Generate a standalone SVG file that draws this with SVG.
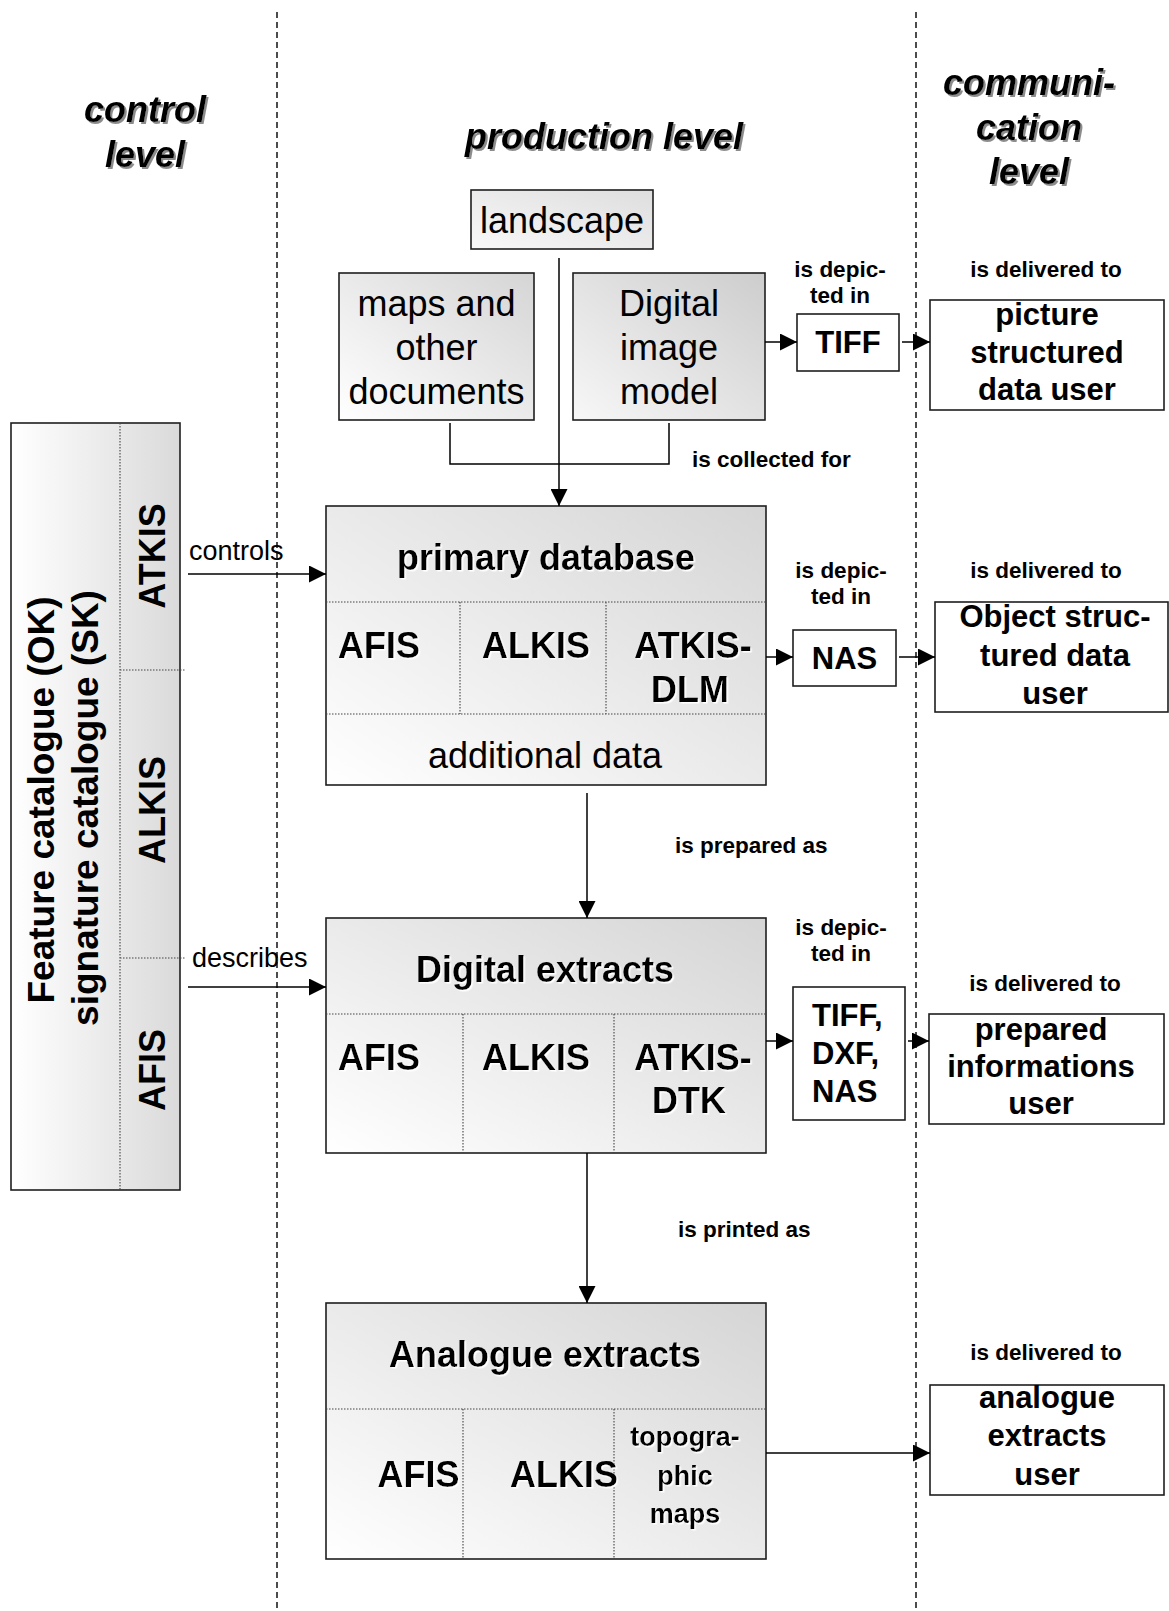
<svg xmlns="http://www.w3.org/2000/svg" width="1169" height="1611" viewBox="0 0 1169 1611">
<defs>
<linearGradient id="gbox" x1="0" y1="1" x2="1" y2="0">
<stop offset="0" stop-color="#ffffff"/>
<stop offset="1" stop-color="#d5d5d5"/>
</linearGradient>
<linearGradient id="gdark" x1="0" y1="1" x2="1" y2="0">
<stop offset="0" stop-color="#f7f7f7"/>
<stop offset="1" stop-color="#cdcdcd"/>
</linearGradient>
<linearGradient id="glight" x1="0" y1="1" x2="1" y2="0">
<stop offset="0" stop-color="#f8f8f8"/>
<stop offset="1" stop-color="#dedede"/>
</linearGradient>
<linearGradient id="gside" x1="0" y1="0" x2="1" y2="0">
<stop offset="0" stop-color="#ffffff"/>
<stop offset="1" stop-color="#dadada"/>
</linearGradient>
<filter id="tshadow" x="-10%" y="-20%" width="130%" height="160%">
<feDropShadow dx="2" dy="2" stdDeviation="0.6" flood-color="#8c8c8c"/>
</filter>
<filter id="wshadow" x="-10%" y="-20%" width="130%" height="160%">
<feDropShadow dx="1.5" dy="1.5" stdDeviation="0.3" flood-color="#ffffff"/>
</filter>
<marker id="arr" markerUnits="userSpaceOnUse" markerWidth="17" markerHeight="17" refX="17" refY="8.5" orient="auto">
<path d="M0,0 L17,8.5 L0,17 z" fill="#000"/>
</marker>
</defs>
<style>
text{font-family:"Liberation Sans",Arial,sans-serif;fill:#000}
.title{font-size:36px;font-weight:bold;font-style:italic;text-anchor:middle}
.reg36{font-size:36px;text-anchor:middle}
.b36{font-size:36px;font-weight:bold}
.b31{font-size:31px;font-weight:bold;text-anchor:middle}
.b27{font-size:27px;font-weight:bold;text-anchor:middle}
.lab{font-size:22.5px;font-weight:bold}
.labm{font-size:22.5px;font-weight:bold;text-anchor:middle}
.small{font-size:27px}
.box{stroke:#1e1e1e;stroke-width:1.6}
.wbox{fill:#fff;stroke:#1e1e1e;stroke-width:1.6}
.dot{stroke:#444;stroke-width:1.1;stroke-dasharray:1.5,1.5;fill:none}
.dash{stroke:#000;stroke-width:1.4;stroke-dasharray:6,4;fill:none}
.con{stroke:#000;stroke-width:1.5;fill:none}
.mid{text-anchor:middle}
</style>
<rect width="1169" height="1611" fill="#fff"/>

<g id="lanes">
<line class="dash" x1="277" y1="12" x2="277" y2="1611"/>
<line class="dash" x1="916" y1="12" x2="916" y2="1611"/>
</g>

<g id="titles" filter="url(#tshadow)">
<text class="title" x="145" y="122">control</text>
<text class="title" x="145" y="167">level</text>
<text class="title" x="604" y="149">production level</text>
<text class="title" x="1029" y="95">communi-</text>
<text class="title" x="1029" y="140">cation</text>
<text class="title" x="1029" y="184">level</text>
</g>

<g id="catalogue">
<rect class="box" x="11" y="423" width="169" height="767" fill="url(#gside)"/>
<path class="dot" d="M120,423 V1190 M120,670 H186 M120,958 H186"/>
<text class="b36" font-size="37" text-anchor="middle" transform="translate(54,800) rotate(-90)" style="font-size:37px">Feature catalogue (OK)</text>
<text class="b36" text-anchor="middle" transform="translate(98,808) rotate(-90)" style="font-size:37px">signature catalogue (SK)</text>
<text class="b36" text-anchor="middle" transform="translate(165,556) rotate(-90)">ATKIS</text>
<text class="b36" text-anchor="middle" transform="translate(165,810) rotate(-90)">ALKIS</text>
<text class="b36" text-anchor="middle" transform="translate(165,1070) rotate(-90)">AFIS</text>
</g>

<g id="landscape">
<rect class="box" x="471" y="190" width="182" height="59" fill="url(#glight)"/>
<text class="reg36" x="562" y="233">landscape</text>
</g>

<g id="maps">
<rect class="box" x="339" y="273" width="195" height="147" fill="url(#gbox)"/>
<text class="reg36" x="436.5" y="316">maps and</text>
<text class="reg36" x="436.5" y="360">other</text>
<text class="reg36" x="436.5" y="404">documents</text>
</g>

<g id="image-model">
<rect class="box" x="573" y="273" width="192" height="147" fill="url(#gdark)"/>
<text class="reg36" x="669" y="316">Digital</text>
<text class="reg36" x="669" y="360">image</text>
<text class="reg36" x="669" y="404">model</text>
</g>

<g id="tiff">
<rect class="wbox" x="797" y="314" width="102" height="57"/>
<text class="b31" x="848" y="353">TIFF</text>
</g>

<g id="picture-user">
<rect class="wbox" x="930" y="300" width="234" height="110"/>
<text class="b31" x="1047" y="325">picture</text>
<text class="b31" x="1047" y="363">structured</text>
<text class="b31" x="1047" y="400">data user</text>
</g>

<g id="primary-database">
<rect class="box" x="326" y="506" width="440" height="279" fill="url(#gbox)"/>
<path class="dot" d="M326,602 H766 M326,714 H766 M460,602 V714 M606,602 V714"/>
<g filter="url(#wshadow)">
<text class="b36" x="546" y="570" text-anchor="middle">primary database</text>
<text class="b36" x="338" y="658">AFIS</text>
<text class="b36" x="536" y="658" text-anchor="middle">ALKIS</text>
<text class="b36" x="693" y="658" text-anchor="middle">ATKIS-</text>
<text class="b36" x="690" y="702" text-anchor="middle">DLM</text>
</g>
<text class="reg36" x="545" y="768">additional data</text>
</g>

<g id="nas">
<rect class="wbox" x="793" y="630" width="103" height="56"/>
<text class="b31" x="844.5" y="669">NAS</text>
</g>

<g id="object-user">
<rect class="wbox" x="935" y="602" width="233" height="110"/>
<text class="b31" x="1055" y="627">Object struc-</text>
<text class="b31" x="1055" y="666">tured data</text>
<text class="b31" x="1055" y="704">user</text>
</g>

<g id="digital-extracts">
<rect class="box" x="326" y="918" width="440" height="235" fill="url(#gbox)"/>
<path class="dot" d="M326,1014 H766 M463,1014 V1153 M614,1014 V1153"/>
<g filter="url(#wshadow)">
<text class="b36" x="545" y="982" text-anchor="middle">Digital extracts</text>
<text class="b36" x="338" y="1070">AFIS</text>
<text class="b36" x="536" y="1070" text-anchor="middle">ALKIS</text>
<text class="b36" x="693" y="1070" text-anchor="middle">ATKIS-</text>
<text class="b36" x="689" y="1113" text-anchor="middle">DTK</text>
</g>
</g>

<g id="tiff-dxf-nas">
<rect class="wbox" x="793" y="987" width="112" height="133"/>
<text class="b31" x="812" y="1026" text-anchor="start" style="text-anchor:start">TIFF,</text>
<text class="b31" x="812" y="1064" style="text-anchor:start">DXF,</text>
<text class="b31" x="812" y="1102" style="text-anchor:start">NAS</text>
</g>

<g id="prepared-user">
<rect class="wbox" x="929" y="1014" width="235" height="110"/>
<text class="b31" x="1041" y="1040">prepared</text>
<text class="b31" x="1041" y="1077">informations</text>
<text class="b31" x="1041" y="1114">user</text>
</g>

<g id="analogue-extracts">
<rect class="box" x="326" y="1303" width="440" height="256" fill="url(#gbox)"/>
<path class="dot" d="M326,1409 H766 M463,1409 V1559 M614,1409 V1559"/>
<g filter="url(#wshadow)">
<text class="b36" x="545" y="1367" text-anchor="middle">Analogue extracts</text>
<text class="b36" x="418.5" y="1487" text-anchor="middle">AFIS</text>
<text class="b36" x="564" y="1487" text-anchor="middle">ALKIS</text>
<text class="b27" x="685" y="1446">topogra-</text>
<text class="b27" x="685" y="1485">phic</text>
<text class="b27" x="685" y="1523">maps</text>
</g>
</g>

<g id="analogue-user">
<rect class="wbox" x="930" y="1385" width="234" height="110"/>
<text class="b31" x="1047" y="1408">analogue</text>
<text class="b31" x="1047" y="1446">extracts</text>
<text class="b31" x="1047" y="1485">user</text>
</g>

<g id="connectors">
<path class="con" d="M450,423 V464 H669 V423"/>
<path class="con" d="M559,258 V506" marker-end="url(#arr)"/>
<path class="con" d="M765,342 H797" marker-end="url(#arr)"/>
<path class="con" d="M902,342 H930" marker-end="url(#arr)"/>
<path class="con" d="M766,657 H793" marker-end="url(#arr)"/>
<path class="con" d="M899,657 H935" marker-end="url(#arr)"/>
<path class="con" d="M766,1041 H793" marker-end="url(#arr)"/>
<path class="con" d="M908,1041 H929" marker-end="url(#arr)"/>
<path class="con" d="M766,1453 H930" marker-end="url(#arr)"/>
<path class="con" d="M188,574 H326" marker-end="url(#arr)"/>
<path class="con" d="M188,987 H326" marker-end="url(#arr)"/>
<path class="con" d="M587,793 V918" marker-end="url(#arr)"/>
<path class="con" d="M587,1153 V1303" marker-end="url(#arr)"/>
</g>

<g id="labels">
<text class="lab" x="692" y="467">is collected for</text>
<text class="labm" x="840" y="277">is depic-</text>
<text class="labm" x="840" y="303">ted in</text>
<text class="labm" x="1046" y="277">is delivered to</text>
<text class="labm" x="841" y="578">is depic-</text>
<text class="labm" x="841" y="604">ted in</text>
<text class="labm" x="1046" y="578">is delivered to</text>
<text class="lab" x="675" y="853">is prepared as</text>
<text class="labm" x="841" y="935">is depic-</text>
<text class="labm" x="841" y="961">ted in</text>
<text class="labm" x="1045" y="991">is delivered to</text>
<text class="lab" x="678" y="1237">is printed as</text>
<text class="labm" x="1046" y="1360">is delivered to</text>
<text class="small" x="189" y="560">controls</text>
<text class="small" x="192" y="967">describes</text>
</g>
</svg>
